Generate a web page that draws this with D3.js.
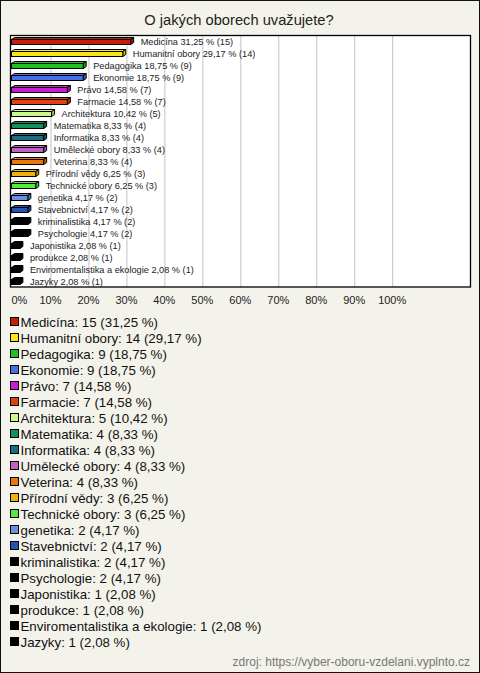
<!DOCTYPE html>
<html>
<head>
<meta charset="utf-8">
<script src="https://cdn.jsdelivr.net/npm/d3@7"></script>
<style>
  html, body { margin: 0; padding: 0; background: #f4f3eb; }
  svg { display: block; font-family: "Liberation Sans", Arial, sans-serif; }
</style>
</head>
<body>
<svg id="chart" width="480" height="673"></svg>
<script>
const title = "O jakých oborech uvažujete?";
const categories = ["Medicína","Humanitní obory","Pedagogika","Ekonomie","Právo","Farmacie","Architektura","Matematika","Informatika","Umělecké obory","Veterina","Přírodní vědy","Technické obory","genetika","Stavebnictví","kriminalistika","Psychologie","Japonistika","produkce","Enviromentalistika a ekologie","Jazyky"];
const counts = [15,14,9,9,7,7,5,4,4,4,4,3,3,2,2,2,2,1,1,1,1];
const percents = [31.25,29.17,18.75,18.75,14.58,14.58,10.42,8.33,8.33,8.33,8.33,6.25,6.25,4.17,4.17,4.17,4.17,2.08,2.08,2.08,2.08];
const colors = ["#c41e0c","#f8e41a","#1ec21e","#4a6ee6","#c81ed2","#e0440e","#ccf88a","#12905e","#1a6e84","#c060c0","#e8780e","#e8b412","#58e840","#6a92dc","#2a52b2","#000000","#000000","#000000","#000000","#000000","#000000"];
const tickValues = [0,10,20,30,40,50,60,70,80,90,100];
const source = "zdroj: https://vyber-oboru-vzdelani.vyplnto.cz";

const fmt = v => v.toFixed(2).replace(".", ",");
const data = categories.map((c, i) => ({ name: c, count: counts[i], pct: percents[i], color: colors[i] }));

const svg = d3.select("#chart");
const W = 480, H = 673;

svg.append("rect").attr("x", 0.5).attr("y", 0.5).attr("width", W - 1).attr("height", H - 1)
  .attr("fill", "#f4f3eb").attr("stroke", "#111");

svg.append("text").attr("x", 239).attr("y", 25).attr("text-anchor", "middle")
  .attr("font-size", 14.7).attr("fill", "#222").text(title);

const plot = { x0: 10.5, y0: 35.5, x1: 470.5, y1: 287 };
svg.append("rect").attr("x", plot.x0).attr("y", plot.y0)
  .attr("width", plot.x1 - plot.x0).attr("height", plot.y1 - plot.y0)
  .attr("fill", "#fff");

const x = d3.scaleLinear().domain([0, 100]).range([12, 391.7]);
const y = d3.scaleBand().domain(categories).range([35, 287]);

// gridlines
const grid = svg.append("g").attr("transform", `translate(0,${plot.y1})`)
  .call(d3.axisBottom(x).tickValues(tickValues.slice(1)).tickSize(-(plot.y1 - plot.y0)).tickFormat(""));
grid.select(".domain").remove();
grid.selectAll("line").attr("stroke", "#c4c4c4").attr("transform", "translate(0.5,0)");

// axis labels
const ax = svg.append("g").attr("transform", `translate(0,293)`)
  .call(d3.axisBottom(x).tickValues(tickValues).tickSize(0).tickFormat(d => d + "%"));
ax.select(".domain").remove();
ax.selectAll("text").attr("font-size", 11).attr("fill", "#222")
  .attr("font-family", "Liberation Sans, Arial, sans-serif")
  .attr("text-anchor", d => d === 0 ? "start" : "middle")
  .attr("dx", d => d === 0 ? -1 : 0);

// plot border
svg.append("rect").attr("x", plot.x0).attr("y", plot.y0)
  .attr("width", plot.x1 - plot.x0).attr("height", plot.y1 - plot.y0)
  .attr("fill", "none").attr("stroke", "#000").attr("stroke-width", 1.3);

// 3D bars
const bh = 5, dx = 3, dy = 2;
const bars = svg.append("g");
data.forEach(d => {
  const x0 = x(0) - 0.5, x1 = x(d.pct);
  const yc = y(d.name) + y.bandwidth() / 2;
  const top = yc - bh / 2 + 1, bot = yc + bh / 2 + 1;
  const g = bars.append("g");
  const dark = d3.color(d.color).darker(0.6);
  g.append("path")
    .attr("d", `M${x0},${top} L${x0 + dx},${top - dy} L${x1 + dx},${top - dy} L${x1},${top} Z`)
    .attr("fill", d.color).attr("stroke", "#000").attr("stroke-width", 1).attr("stroke-linejoin", "round");
  g.append("path")
    .attr("d", `M${x1},${top} L${x1 + dx},${top - dy} L${x1 + dx},${bot - dy} L${x1},${bot} Z`)
    .attr("fill", dark).attr("stroke", "#000").attr("stroke-width", 1).attr("stroke-linejoin", "round");
  g.append("rect").attr("x", x0).attr("y", top).attr("width", Math.max(0, x1 - x0)).attr("height", bot - top)
    .attr("fill", d.color).attr("stroke", "#000").attr("stroke-width", 1);
  svg.append("text").attr("x", x1 + dx + 7).attr("y", yc + 3.5)
    .attr("font-size", 9.2).attr("fill", "#222")
    .text(`${d.name} ${fmt(d.pct)} % (${d.count})`);
});

// legend
const leg = svg.append("g");
data.forEach((d, i) => {
  const yc = 322 + i * 16;
  leg.append("rect").attr("x", 10.5).attr("y", yc - 4.5).attr("width", 8).attr("height", 8)
    .attr("fill", d.color).attr("stroke", "#000").attr("stroke-width", 1);
  leg.append("text").attr("x", 20.5).attr("y", yc + 5).attr("font-size", 13.3).attr("fill", "#111")
    .text(`${d.name}: ${d.count} (${fmt(d.pct)} %)`);
});

svg.append("text").attr("x", 470).attr("y", 666).attr("text-anchor", "end")
  .attr("font-size", 12).attr("fill", "#777").text(source);
</script>
</body>
</html>
